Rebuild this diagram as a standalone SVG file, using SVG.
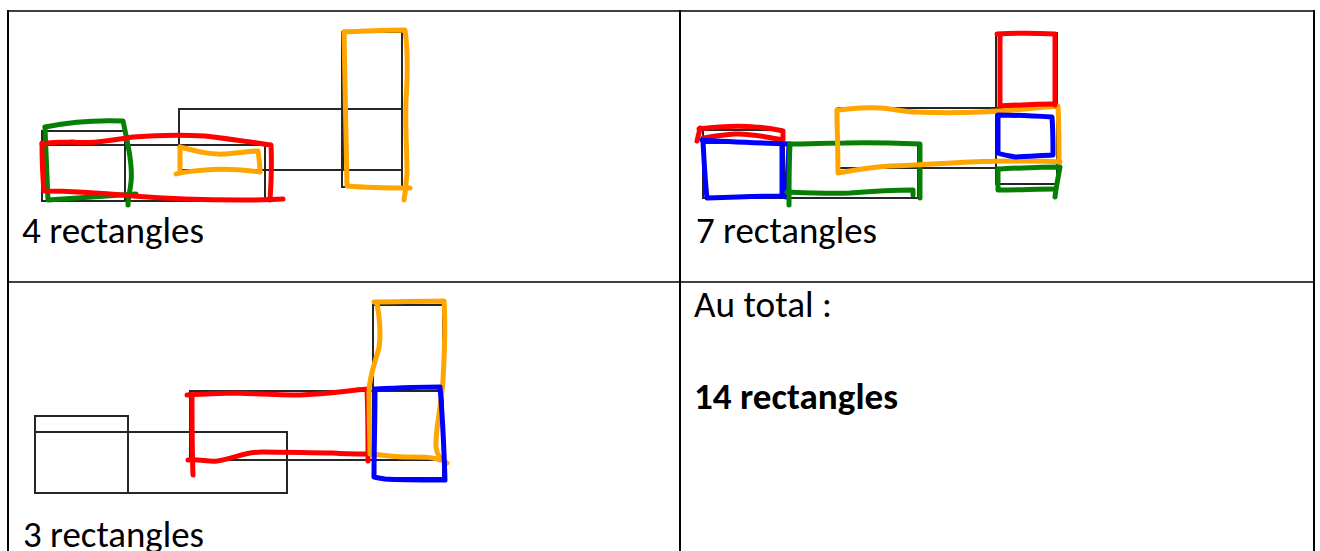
<svg xmlns="http://www.w3.org/2000/svg" width="1320" height="551" viewBox="0 0 1320 551">
<style>
.grid{stroke:#000;fill:none}
.fig{stroke:#262626;stroke-width:2;fill:none}
.pen{fill:none;stroke-width:5;stroke-linecap:round;stroke-linejoin:round}
.r{stroke:#ff0000}.o{stroke:#ffa500}.g{stroke:#058005}.b{stroke:#0000ff}
.t{font-family:Carlito,Lato,"Liberation Sans",sans-serif;font-size:37px;fill:#000}
.bold{font-weight:bold}
</style>
<rect width="1320" height="551" fill="#fff"/>
<g id="table">
<line class="grid" x1="7" y1="11" x2="1315" y2="11" stroke-width="1.5"/>
<line class="grid" x1="8" y1="10" x2="8" y2="551" stroke-width="2"/>
<line class="grid" x1="680" y1="10" x2="680" y2="551" stroke-width="2"/>
<line class="grid" x1="1314" y1="10" x2="1314" y2="551" stroke-width="2"/>
<line class="grid" x1="8" y1="282" x2="1314" y2="282" stroke-width="1.6"/>
</g>
<g id="panel1">
<rect class="fig" x="42" y="131" width="83" height="70"/>
<line class="fig" x1="42" y1="145" x2="265" y2="145"/>
<rect class="fig" x="125" y="145" width="140" height="56"/>
<rect class="fig" x="179" y="109" width="164" height="61"/>
<rect class="fig" x="342" y="32" width="60" height="155"/>
<line class="fig" x1="342" y1="109" x2="402" y2="109"/>
<line class="fig" x1="342" y1="170" x2="402" y2="170"/>
<path class="pen g" d="M45,127 C70,122 100,120 123,121 C127,140 133,165 131,182 C130,192 128,198 128,205"/>
<path class="pen g" d="M45,128 C46,150 47,180 48,200 C80,198 110,196 136,194"/>
<path class="pen r" d="M42,144 C55,141 62,143 72,142 C90,144 105,141 133,137 C160,135 183,135 205,136 C230,139 250,142 271,145 C272,165 271,185 270,200"/>
<path class="pen r" d="M42,143 C42,160 43,180 44,191 C70,191 100,193 133,196 C170,199 210,200 240,200 C260,200 272,200 283,199"/>
<path class="pen o" d="M180,147 C195,151 210,155 225,154 C240,153 250,151 258,151 C259,158 260,165 260,172 C245,170 225,168 205,170 C192,171 182,172 176,174"/>
<path class="pen o" d="M180,147 L180,170"/>
<path class="pen o" d="M344,32 C365,31 385,30 405,30 C408,50 408,70 406,100 C405,127 407,150 407,173 C406,185 405,195 404,200"/>
<path class="pen o" d="M344,32 C345,80 346,140 347,186 C370,188 392,188 410,188"/>
<text class="t" x="22" y="243" textLength="182" lengthAdjust="spacingAndGlyphs">4 rectangles</text>
</g>
<g id="panel2">
<rect class="fig" x="703" y="130" width="81" height="68"/>
<line class="fig" x1="703" y1="143" x2="918" y2="143"/>
<rect class="fig" x="784" y="143" width="134" height="55"/>
<rect class="fig" x="838" y="108" width="158" height="60"/>
<rect class="fig" x="996" y="33" width="61" height="151"/>
<line class="fig" x1="996" y1="108" x2="1057" y2="108"/>
<line class="fig" x1="996" y1="168" x2="1057" y2="168"/>
<path class="pen r" d="M699,129 C715,127 735,125 755,127 C770,128 778,130 783,131 L783,140 C765,137 750,133 735,134 C720,135 710,137 703,138"/>
<path class="pen r" d="M700,128 C699,133 698,137 697,141"/>
<path class="pen b" d="M702,140 C730,142 760,143 790,144"/>
<path class="pen b" d="M703,141 C704,160 705,180 707,198 C730,197 760,196 782,196 L782,144"/>
<path class="pen b" d="M789,145 C788,165 787,185 786,197"/>
<path class="pen g" d="M790,144 C810,144 825,143 845,143 C870,142 895,143 920,144 L920,198"/>
<path class="pen g" d="M790,144 C789,165 789,185 789,205"/>
<path class="pen g" d="M787,192 C810,193 830,194 850,193 C875,191 895,190 913,190 L913,195"/>
<path class="pen o" d="M837,110 C850,109 865,107 880,108 C895,109 905,112 915,112 C940,113 960,113 980,112 C1010,111 1035,108 1058,106 C1059,125 1059,145 1059,162"/>
<path class="pen o" d="M837,110 C837,130 838,150 838,173 C855,170 870,167 890,166 C920,165 945,163 970,162 C1000,161 1030,160 1060,162"/>
<path class="pen r" d="M997,34 C1015,33 1035,33 1055,34 C1055,60 1055,85 1055,105"/>
<path class="pen r" d="M1000,35 C1000,60 1000,85 1000,106 C1018,105 1035,104 1054,104"/>
<path class="pen b" d="M998,115 C1015,115 1035,116 1052,117 C1053,130 1053,142 1053,155 C1035,156 1020,157 1015,157 C1005,155 999,154 998,153 Z"/>
<path class="pen g" d="M998,169 C1020,168 1040,167 1060,167 C1058,178 1056,188 1055,197"/>
<path class="pen g" d="M998,169 L998,190 C1018,190 1038,189 1055,189"/>
<text class="t" x="696" y="243" textLength="181" lengthAdjust="spacingAndGlyphs">7 rectangles</text>
</g>
<g id="panel3">
<rect class="fig" x="35" y="416" width="93" height="77"/>
<line class="fig" x1="35" y1="432" x2="287" y2="432"/>
<rect class="fig" x="128" y="432" width="159" height="61"/>
<rect class="fig" x="190" y="391" width="183" height="69"/>
<rect class="fig" x="373" y="305" width="70" height="173"/>
<line class="fig" x1="373" y1="391" x2="443" y2="391"/>
<line class="fig" x1="373" y1="460" x2="443" y2="460"/>
<path class="pen r" d="M187,395 C205,394 220,393 235,393 C260,394 280,395 300,395 C325,394 345,391 367,389 C368,415 368,440 368,461"/>
<path class="pen r" d="M192,395 C192,420 192,450 193,475"/>
<path class="pen r" d="M188,460 C200,459 208,462 217,461 C235,458 245,452 262,452 C290,452 310,453 333,453 C345,454 358,454 368,454"/>
<path class="pen o" d="M374,302 C395,302 420,301 444,301 C446,330 444,360 443,380 C441,410 435,430 436,447 C437,455 440,460 447,463"/>
<path class="pen o" d="M377,303 C380,320 381,335 379,348 C374,365 369,378 369,392 C369,420 370,440 370,454 C385,455 395,457 410,457 C425,457 433,457 440,460"/>
<path class="pen b" d="M375,389 C395,388 420,387 440,387 C443,420 444,450 445,480 C420,480 400,480 385,479 C378,478 374,477 374,477 C374,450 375,420 375,389"/>
<text class="t" x="23" y="547" textLength="181" lengthAdjust="spacingAndGlyphs">3 rectangles</text>
</g>
<g id="total">
<text class="t" x="694" y="317" textLength="138" lengthAdjust="spacingAndGlyphs">Au total :</text>
<text class="t bold" x="694" y="409" textLength="204" lengthAdjust="spacingAndGlyphs">14 rectangles</text>
</g>
</svg>
